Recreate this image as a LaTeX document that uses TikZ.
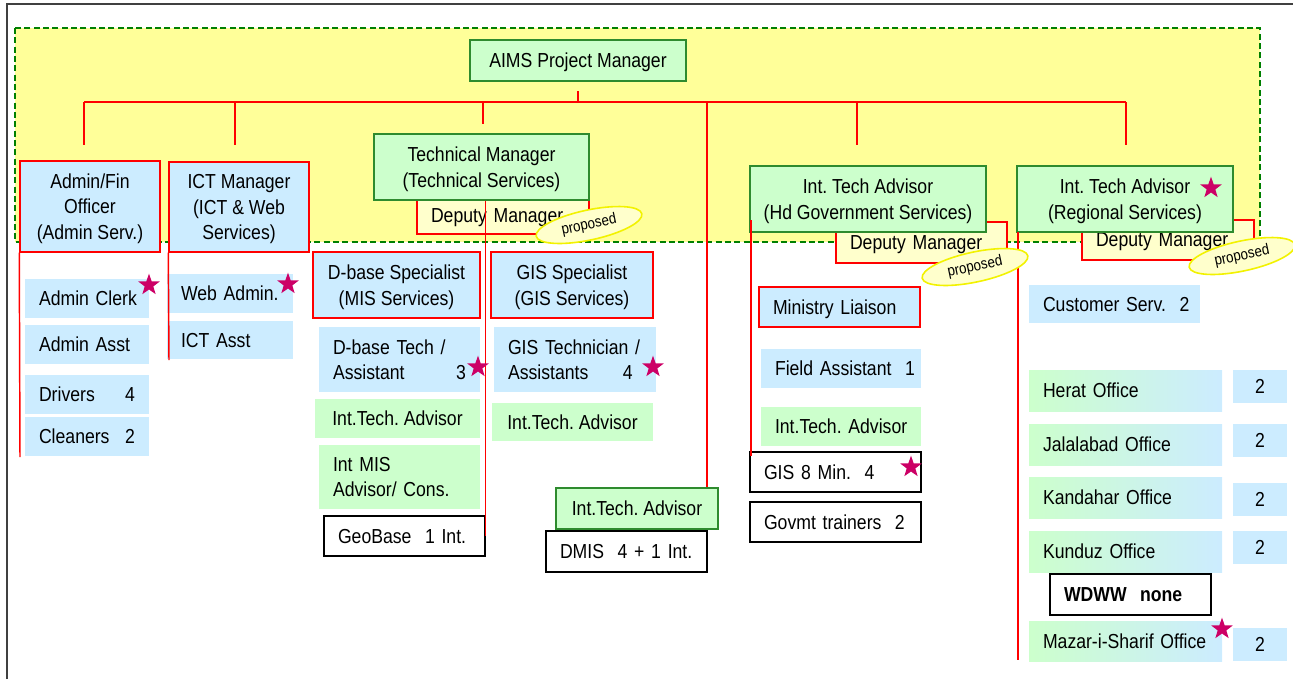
\documentclass[tikz,border=0pt]{standalone}
\usepackage{fontspec}
\setmainfont{Liberation Sans}[FakeStretch=0.87]
\usetikzlibrary{shapes.geometric}
\frenchspacing
\definecolor{lblue}{HTML}{CCECFF}
\definecolor{lgreen}{HTML}{CCFFCC}
\definecolor{bgyellow}{HTML}{FFFF99}
\definecolor{lyellow}{HTML}{FFFFCC}
\definecolor{dgreen}{HTML}{008000}
\definecolor{bgreen}{HTML}{2E8B2E}
\definecolor{starc}{HTML}{CC0066}
\definecolor{ellbord}{HTML}{F2F200}
\newcommand{\cbox}[7]{\pgfmathsetmacro{\myMW}{(#4-#2)*0.75}\pgfmathsetmacro{\myMH}{(#5-#3)*0.75}%
  \node[#6, align=center, inner sep=0pt, text depth=0pt, minimum width=\myMW pt, minimum height=\myMH pt] (#1) at ({(#2+#4)/2},{(#3+#5)/2}) {#7};}
\newcommand{\lbox}[7]{\pgfmathsetmacro{\myTW}{(#4-#2-28)*0.75}\pgfmathsetmacro{\myMH}{(#5-#3)*0.75}%
  \node[#6, align=left, inner ysep=0pt, inner xsep=10.5pt, text depth=0pt, text width=\myTW pt, minimum height=\myMH pt] (#1) at ({(#2+#4)/2},{(#3+#5)/2}) {\makebox[\myTW pt][l]{#7}};}
\newcommand{\lboxii}[8]{\pgfmathsetmacro{\myTW}{(#4-#2-28)*0.75}\pgfmathsetmacro{\myMH}{(#5-#3)*0.75}%
  \node[#6, align=left, inner ysep=0pt, inner xsep=10.5pt, text width=\myTW pt, minimum height=\myMH pt] (#1) at ({(#2+#4)/2},{(#3+#5)/2}) {\makebox[\myTW pt][l]{#7}\\\makebox[\myTW pt][l]{#8}};}
\tikzset{
  bluebox/.style={fill=lblue},
  redblue/.style={fill=lblue, draw=red, line width=1.1pt},
  greenbox/.style={fill=lgreen},
  greenbord/.style={fill=lgreen, draw=bgreen, line width=1.1pt},
  deputy/.style={fill=lyellow, draw=red, line width=1.1pt},
  whitebox/.style={fill=white, draw=black, line width=1.1pt},
  office/.style={left color=lgreen, right color=lblue},
  redline/.style={draw=red, line width=1.1pt},
  propell/.style={ellipse, fill=lyellow, draw=ellbord, line width=1.2pt, rotate=12, minimum width=81pt, minimum height=22.5pt, inner sep=0pt, font=\fontsize{11.5}{13}\selectfont},
  starn/.style={star, star points=5, star point ratio=2.5, fill=starc, minimum size=17pt, inner sep=0pt}
}
\begin{document}
\begin{tikzpicture}[x=0.75pt,y=-0.75pt, every node/.style={font=\fontsize{15.2}{19}\selectfont, text=black}]
\useasboundingbox (0,0) rectangle (1293,679);
% frame and zone
\draw[line width=1.6pt, black!75] (7,679) -- (7,4) -- (1293,4);
\filldraw[fill=bgyellow, draw=dgreen, line width=1.2pt, dash pattern=on 4.5pt off 2.5pt] (15,28) rectangle (1260,242);
% coordinates for connectors
\coordinate (busL) at (84,102);
\coordinate (busR) at (1126,102);
\coordinate (stubTop) at (578,91);
\coordinate (stubBot) at (578,102);
\coordinate (jA) at (84,102);   \coordinate (eA) at (84,145);
\coordinate (jI) at (235,102);  \coordinate (eI) at (235,145);
\coordinate (jT) at (483,102);  \coordinate (eT) at (483,124);
\coordinate (jD) at (707,102);  \coordinate (eD) at (707,550);
\coordinate (jH) at (857,102);  \coordinate (eH) at (857,145);
\coordinate (jR) at (1126,102); \coordinate (eR) at (1126,145);
% bus lines (behind boxes)
\draw[redline] (busL) -- (busR);
\draw[redline] (stubTop) -- (stubBot);
\draw[redline] (jA) -- (eA);
\draw[redline] (jI) -- (eI);
\draw[redline] (jT) -- (eT);
\draw[redline] (jD) -- (eD);
\draw[redline] (jH) -- (eH);
\draw[redline] (jR) -- (eR);
% deputy boxes (behind managers)
\lbox{depT}{417}{198}{589}{234}{deputy}{Deputy Manager}
\lbox{depH}{836}{222}{1007}{263}{deputy}{Deputy Manager}
\lbox{depR}{1082}{220}{1254}{260}{deputy}{Deputy Manager}
% top level
\cbox{aims}{470}{40}{686}{81}{greenbord}{AIMS Project Manager}
\cbox{tech}{374}{134}{589}{200}{greenbord}{Technical Manager\\(Technical Services)}
\cbox{itaH}{750}{166}{986}{232}{greenbord}{Int. Tech Advisor\\(Hd Government Services)}
\cbox{itaR}{1017}{166}{1233}{232}{greenbord}{Int. Tech Advisor\\(Regional Services)}
\cbox{admin}{20}{161}{160}{252}{redblue}{Admin/Fin\\Officer\\(Admin Serv.)}
\cbox{ict}{169}{162}{309}{252}{redblue}{ICT Manager\\(ICT \& Web\\Services)}
% admin column
\lbox{clerk}{25}{279}{149}{318}{bluebox}{Admin Clerk}
\lbox{asst}{25}{325}{149}{364}{bluebox}{Admin Asst}
\lbox{drivers}{25}{375}{149}{414}{bluebox}{Drivers\hfill 4}
\lbox{cleaners}{25}{417}{149}{456}{bluebox}{Cleaners\hfill 2}
% ict column
\lbox{web}{167}{274}{293}{313}{bluebox}{Web Admin.}
\lbox{ictasst}{167}{321}{293}{359}{bluebox}{ICT Asst}
% MIS column
\cbox{dbs}{313}{252}{480}{318}{redblue}{D-base Specialist\\(MIS Services)}
\lboxii{dbt}{319}{327}{480}{392}{bluebox}{D-base Tech /}{Assistant\hfill 3}
\cbox{itaM}{315}{399}{480}{438}{greenbox}{Int.Tech. Advisor}
\lboxii{mis}{319}{445}{480}{509}{greenbox}{Int MIS}{Advisor/ Cons.}
\lbox{geo}{324}{516}{485}{556}{whitebox}{GeoBase\ \ 1 Int.}
% GIS column
\cbox{gss}{491}{252}{653}{318}{redblue}{GIS Specialist\\(GIS Services)}
\lboxii{gtech}{494}{327}{656}{392}{bluebox}{GIS Technician /}{Assistants\hfill 4\hspace{7pt}}
\cbox{itaG}{492}{403}{653}{441}{greenbox}{Int.Tech. Advisor}
% DMIS
\cbox{itaD}{556}{488}{718}{529}{greenbord}{Int.Tech. Advisor}
\lbox{dmis}{546}{531}{707}{572}{whitebox}{DMIS\ \ 4 + 1 Int.}
% Government services column
\lbox{ministry}{759}{287}{920}{327}{redblue}{Ministry Liaison}
\lbox{field}{761}{349}{921}{388}{bluebox}{Field Assistant\ \ 1}
\lbox{itaF}{761}{407}{921}{446}{greenbox}{Int.Tech. Advisor}
\lbox{gis8}{750}{452}{921}{492}{whitebox}{GIS 8 Min.\ \ 4}
\lbox{govt}{750}{502}{921}{542}{whitebox}{Govmt trainers\ \ 2}
% Regional column
\lbox{cust}{1029}{285}{1200}{323}{bluebox}{Customer Serv.\ \ 2}
\lbox{herat}{1029}{370}{1222}{411}{office}{Herat Office}
\lbox{jalal}{1029}{424}{1222}{465}{office}{Jalalabad Office}
\lbox{kand}{1029}{477}{1222}{518}{office}{Kandahar Office}
\lbox{kund}{1029}{531}{1222}{572}{office}{Kunduz Office}
\lbox{wdww}{1050}{574}{1211}{615}{whitebox}{\bfseries WDWW\hspace{10pt}none}
\lbox{mazar}{1029}{621}{1222}{661}{office}{Mazar-i-Sharif Office}
\cbox{nH}{1233}{370}{1287}{403}{bluebox}{2}
\cbox{nJ}{1233}{424}{1287}{457}{bluebox}{2}
\cbox{nK}{1233}{483}{1287}{516}{bluebox}{2}
\cbox{nU}{1233}{531}{1287}{564}{bluebox}{2}
\cbox{nM}{1233}{628}{1287}{661}{bluebox}{2}
% connectors drawn over boxes
\coordinate (eAdm) at (20,457);
\coordinate (eIct) at (169,360);
\coordinate (eGov) at (751,456);
\coordinate (sGov) at (751,220);
\coordinate (sReg) at (1018,232);
\coordinate (eReg) at (1018,660);
\draw[redline] (admin.south west) -- (eAdm);
\draw[redline] (ict.south west) -- (eIct);
\draw[redline] (tech.south -| geo.east) -- (geo.east);
\draw[redline] (sGov) -- (eGov);
\draw[redline] (sReg) -- (eReg);
% proposed ellipses
\node[propell] (pT) at (589,225) {proposed};
\node[propell] (pH) at (975,267) {proposed};
\node[propell] (pR) at (1242,256) {proposed};
% stars
\node[starn] (s1) at (149,285) {};
\node[starn] (s2) at (288,284) {};
\node[starn] (s3) at (478,367) {};
\node[starn] (s4) at (653,367) {};
\node[starn] (s5) at (1211,188) {};
\node[starn] (s6) at (911,467) {};
\node[starn] (s7) at (1222,629) {};
\end{tikzpicture}
\end{document}
